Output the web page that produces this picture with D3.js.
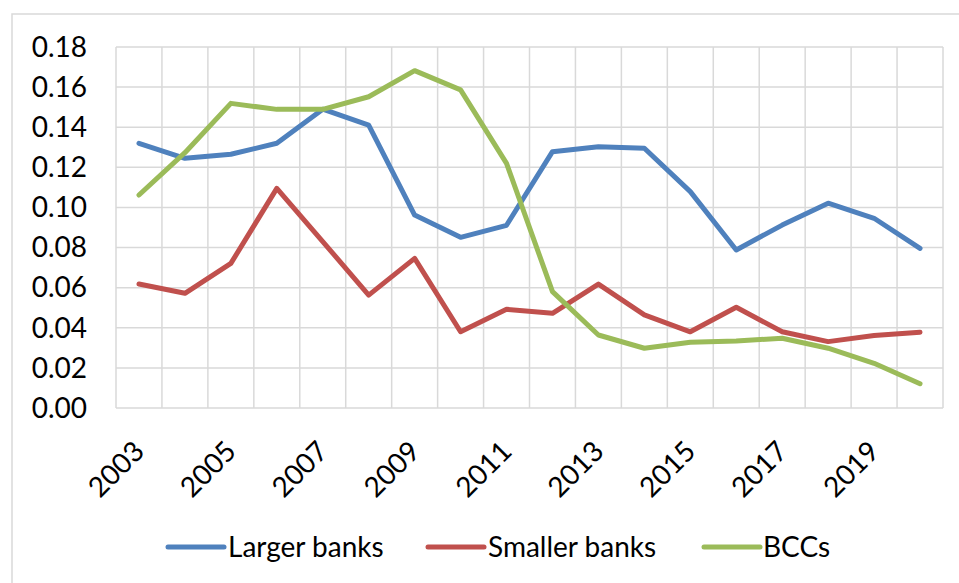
<!DOCTYPE html>
<html>
<head>
<meta charset="utf-8">
<script src="https://cdn.jsdelivr.net/npm/d3@7"></script>
<style>
  html, body { margin: 0; padding: 0; background: #fff; }
  svg { display: block; }
  text { font-family: Lato, "Open Sans", sans-serif; fill: #000; }
</style>
</head>
<body>
<svg id="chart" width="959" height="583"></svg>
<script>
const years = [2003,2004,2005,2006,2007,2008,2009,2010,2011,2012,2013,2014,2015,2016,2017,2018,2019,2020];
const yearLabels = ["2003","2005","2007","2009","2011","2013","2015","2017","2019"];
const yTicks = [0,0.02,0.04,0.06,0.08,0.10,0.12,0.14,0.16,0.18];
const largerBanks  = [0.132,0.1245,0.1265,0.132,0.149,0.141,0.0962,0.0851,0.0911,0.1278,0.1303,0.1295,0.1079,0.0788,0.0912,0.1021,0.0946,0.0796];
const smallerBanks = [0.0618,0.0572,0.0721,0.1095,0.083,0.0563,0.0746,0.038,0.0492,0.0472,0.0618,0.0464,0.038,0.0502,0.038,0.0331,0.0362,0.0378];
const bccs         = [0.1062,0.1273,0.1519,0.1489,0.1489,0.1552,0.1682,0.1586,0.122,0.058,0.0364,0.0298,0.0328,0.0334,0.0348,0.0298,0.0223,0.0121];
const seriesNames  = ["Larger banks","Smaller banks","BCCs"];
const seriesColors = ["#4f81bd","#c0504d","#9bbb59"];
const seriesData   = [largerBanks, smallerBanks, bccs];

const svg = d3.select("#chart");
const plot = {left: 116, right: 943, top: 47, bottom: 408};

// outer chart border (extends beyond the image on the right and bottom)
svg.append("rect").attr("x", 12).attr("y", 14).attr("width", 1000).attr("height", 1000)
  .attr("fill", "none").attr("stroke", "#d9d9d9").attr("stroke-width", 1.5);

const x = d3.scaleBand().domain(years).range([plot.left, plot.right]).padding(0);
const y = d3.scaleLinear().domain([0, 0.18]).range([plot.bottom, plot.top]);

const grid = svg.append("g").attr("stroke", "#d9d9d9").attr("stroke-width", 1.5);
grid.selectAll("line.h").data(yTicks).join("line")
  .attr("x1", plot.left).attr("x2", plot.right)
  .attr("y1", d => y(d)).attr("y2", d => y(d));
const bounds = years.map(d => x(d)).concat([x(years[years.length-1]) + x.bandwidth()]);
grid.selectAll("line.v").data(bounds).join("line")
  .attr("x1", d => d).attr("x2", d => d)
  .attr("y1", plot.top).attr("y2", plot.bottom);

// y axis labels
svg.append("g").selectAll("text").data(yTicks).join("text")
  .attr("x", 87).attr("y", d => y(d)).attr("dy", "0.35em")
  .attr("text-anchor", "end").attr("font-size", 28)
  .text(d => d3.format(".2f")(d));

// x axis labels rotated
svg.append("g").selectAll("text").data(yearLabels).join("text")
  .attr("text-anchor", "end").attr("font-size", 28)
  .attr("transform", d => `translate(${x(+d) + x.bandwidth()/2 + 7},${plot.bottom + 45}) rotate(-45)`)
  .text(d => d);

// lines
const line = d3.line().x((d, i) => x(years[i]) + x.bandwidth()/2).y(d => y(d));
seriesData.forEach((s, k) => {
  svg.append("path").datum(s).attr("d", line)
    .attr("fill", "none").attr("stroke", seriesColors[k]).attr("stroke-width", 5)
    .attr("stroke-linejoin", "round").attr("stroke-linecap", "round");
});

// legend
const legendItems = [
  {sx: 168, tx: 228},
  {sx: 428, tx: 488},
  {sx: 704, tx: 763}
];
const ly = 547;
seriesNames.forEach((n, k) => {
  svg.append("line").attr("x1", legendItems[k].sx).attr("x2", legendItems[k].sx + 56)
    .attr("y1", ly).attr("y2", ly).attr("stroke", seriesColors[k]).attr("stroke-width", 5)
    .attr("stroke-linecap", "round");
  svg.append("text").attr("x", legendItems[k].tx).attr("y", ly).attr("dy", "0.35em")
    .attr("font-size", 28).text(n);
});
</script>
</body>
</html>
